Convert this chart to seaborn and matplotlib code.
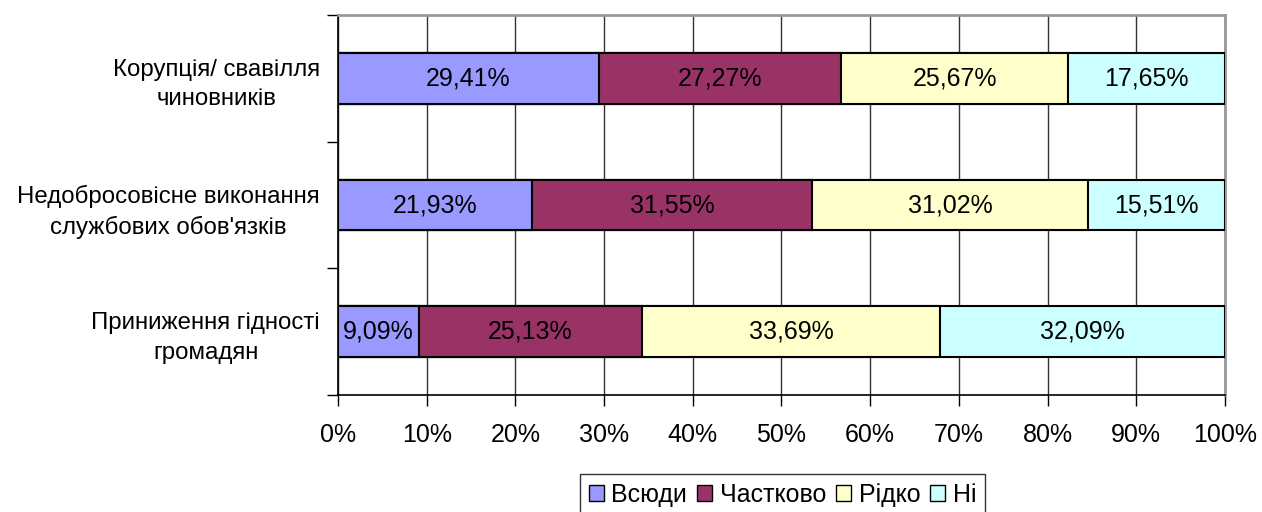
import numpy as np
import pandas as pd
import seaborn as sns
import matplotlib.pyplot as plt
from matplotlib.patches import Patch
from matplotlib.ticker import FixedLocator

categories = ["Корупція/ свавілля\nчиновників",
              "Недобросовісне виконання\nслужбових обов'язків",
              "Приниження гідності\nгромадян"]
series = ["Всюди", "Частково", "Рідко", "Ні"]
vsiudy = [29.41, 21.93, 9.09]
chastkovo = [27.27, 31.55, 25.13]
ridko = [25.67, 31.02, 33.69]
ni = [17.65, 15.51, 32.09]
colors = ["#9999FF", "#993366", "#FFFFCC", "#CCFFFF"]

sns.set_style("white")
plt.rcParams['font.family'] = ['Liberation Sans', 'DejaVu Sans']
plt.rcParams['text.color'] = 'black'
plt.rcParams['xtick.color'] = 'black'
plt.rcParams['ytick.color'] = 'black'

values = np.array([vsiudy, chastkovo, ridko, ni])
cum = values.cumsum(axis=0)

fig = plt.figure(figsize=(12.62, 5.12), dpi=100)
ax = fig.add_axes([0.2678, 0.2285, 0.7029, 0.7422])

# overlay cumulative bars, longest first
for i in range(len(series) - 1, -1, -1):
    df = pd.DataFrame({"cat": categories, "val": cum[i]})
    sns.barplot(data=df, x="val", y="cat", color=colors[i], width=0.4,
                edgecolor="black", linewidth=1.5, saturation=1, ax=ax, zorder=3)

for i in range(len(series)):
    left = cum[i] - values[i]
    for j in range(len(categories)):
        ax.text(left[j] + values[i][j] / 2, j, f"{values[i][j]:.2f}%".replace(".", ","),
                ha="center", va="center", fontsize=18, color="black", zorder=4)

ax.set_xlim(0, 100)
ax.set_ylim(2.5, -0.5)
ax.set_xticks(np.arange(0, 101, 10))
ax.set_xticklabels([f"{v}%" for v in range(0, 101, 10)], fontsize=18)
ax.grid(axis="x", color="#333333", linewidth=1, zorder=0)
ax.set_axisbelow(True)
ax.set_xlabel("")
ax.set_ylabel("")

ax.set_yticks([0, 1, 2])
ax.set_yticklabels(categories, fontsize=17.3, multialignment="center",
                   color="black", linespacing=1.45)
ax.tick_params(axis="y", length=0, pad=13)
ax.yaxis.set_minor_locator(FixedLocator([-0.5, 0.5, 1.5, 2.5]))
ax.tick_params(axis="y", which="minor", length=8, width=1, color="black", left=True)
ax.tick_params(axis="x", length=8, width=1, color="black", labelcolor="black",
               bottom=True, pad=12)

for s in ["left", "bottom"]:
    ax.spines[s].set_color("black")
    ax.spines[s].set_linewidth(1.2)
for s in ["top", "right"]:
    ax.spines[s].set_visible(True)
    ax.spines[s].set_color("#999999")
    ax.spines[s].set_linewidth(2)

handles = [Patch(facecolor=c, edgecolor="black", label=s) for c, s in zip(colors, series)]
leg = fig.legend(handles=handles, loc="upper center", bbox_to_anchor=(0.62, 0.074),
                 ncol=4, fontsize=18, frameon=True, fancybox=False,
                 handlelength=0.6, handleheight=0.6, handletextpad=0.3,
                 columnspacing=0.4, borderpad=0.35, borderaxespad=0)
leg.get_frame().set_edgecolor("black")
leg.get_frame().set_linewidth(1)

fig.savefig("out.png", dpi=100)
